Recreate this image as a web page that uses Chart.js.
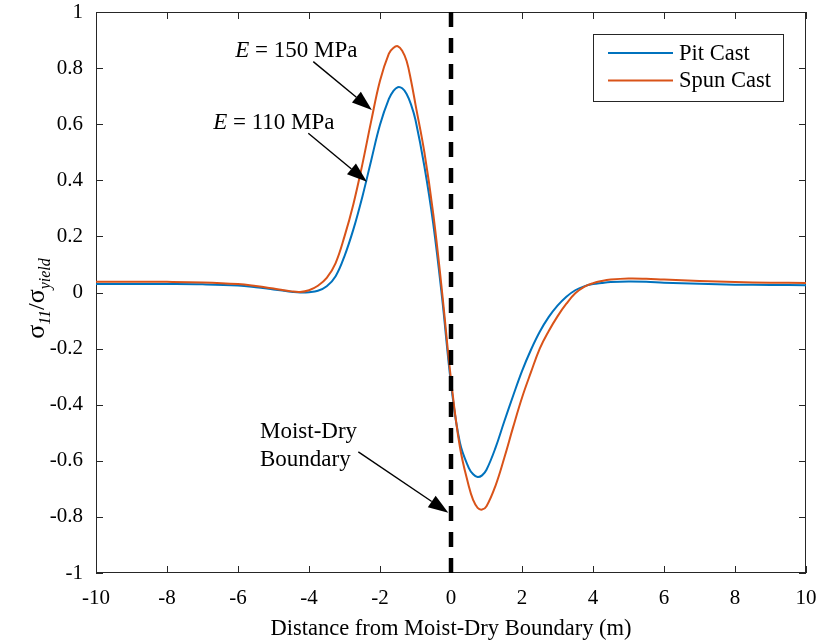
<!DOCTYPE html>
<html><head><meta charset="utf-8">
<script src="https://cdn.jsdelivr.net/npm/chart.js@4/dist/chart.umd.min.js"></script>
<style>html,body{margin:0;padding:0;background:#fff}#wrap{width:819px;height:641px}</style>
</head><body><div id="wrap"><canvas id="c" width="819" height="641"></canvas></div>
<script>
// ---- data ----
const seriesNames = ['Pit Cast', 'Spun Cast'];
const distance = [-10, -9, -8, -7, -6, -5.5, -5, -4.75, -4.5, -4.25, -4, -3.75, -3.5, -3.25, -3, -2.75, -2.5, -2.25, -2, -1.75, -1.625, -1.5, -1.375, -1.25, -1.125, -1, -0.75, -0.5, -0.25, 0, 0.25, 0.5, 0.625, 0.75, 0.875, 1, 1.25, 1.5, 1.75, 2, 2.25, 2.5, 2.75, 3, 3.25, 3.5, 3.75, 4, 4.25, 4.5, 5, 5.5, 6, 7, 8, 9, 10];
const pitCast = [0.030, 0.030, 0.030, 0.029, 0.025, 0.019, 0.011, 0.007, 0.003, 0.0, 0.001, 0.006, 0.022, 0.058, 0.13, 0.225, 0.34, 0.47, 0.598, 0.69, 0.718, 0.732, 0.728, 0.708, 0.67, 0.615, 0.45, 0.245, -0.02, -0.325, -0.535, -0.625, -0.648, -0.658, -0.652, -0.632, -0.555, -0.46, -0.368, -0.28, -0.205, -0.14, -0.088, -0.047, -0.015, 0.008, 0.022, 0.03, 0.034, 0.037, 0.039, 0.038, 0.035, 0.031, 0.028, 0.027, 0.026];
const spunCast = [0.038, 0.038, 0.038, 0.036, 0.030, 0.023, 0.014, 0.009, 0.004, 0.002, 0.008, 0.024, 0.052, 0.105, 0.20, 0.315, 0.455, 0.61, 0.755, 0.852, 0.872, 0.878, 0.862, 0.825, 0.755, 0.67, 0.50, 0.28, 0.0, -0.31, -0.55, -0.69, -0.74, -0.768, -0.774, -0.762, -0.69, -0.59, -0.48, -0.375, -0.285, -0.2, -0.138, -0.085, -0.04, -0.003, 0.02, 0.033, 0.041, 0.046, 0.05, 0.049, 0.046, 0.041, 0.037, 0.035, 0.034];
const boundaryX = [0, 0];
const boundaryY = [1, -1];
const xTickLabels = ['-10', '-8', '-6', '-4', '-2', '0', '2', '4', '6', '8', '10'];
const yTickLabels = ['-1', '-0.8', '-0.6', '-0.4', '-0.2', '0', '0.2', '0.4', '0.6', '0.8', '1'];
const xTitle = 'Distance from Moist-Dry Boundary (m)';

// ---- styling ----
const FONT = '"Liberation Serif", "Times New Roman", serif';
const AX = '#262626';
const BLUE = '#0072BD';
const ORANGE = '#D95319';

const pts = (xs, ys) => xs.map((x, i) => ({x: x, y: ys[i]}));

// annotation anchors in data units
const notes = [
  {lines: [[['E', true], [' = 150 MPa', false]]], x: -6.08, y: 0.862, from: [-3.88, 0.823], to: [-2.23, 0.651]},
  {lines: [[['E', true], [' = 110 MPa', false]]], x: -6.70, y: 0.605, from: [-4.02, 0.568], to: [-2.37, 0.395]},
  {lines: [[['Moist-Dry', false]], [['Boundary', false]]], x: -5.38, y: -0.496, dy: -0.101, from: [-2.61, -0.568], to: [-0.076, -0.785]}
];

function arrow(ctx, x1, y1, x2, y2) {
  const ang = Math.atan2(y2 - y1, x2 - x1);
  const L = 20, W = 7;
  const bx = x2 - L * Math.cos(ang), by = y2 - L * Math.sin(ang);
  ctx.beginPath(); ctx.moveTo(x1, y1); ctx.lineTo(bx, by);
  ctx.lineWidth = 1.4; ctx.strokeStyle = '#000'; ctx.stroke();
  ctx.beginPath();
  ctx.moveTo(x2, y2);
  ctx.lineTo(bx + W * Math.sin(ang), by - W * Math.cos(ang));
  ctx.lineTo(bx - W * Math.sin(ang), by + W * Math.cos(ang));
  ctx.closePath(); ctx.fillStyle = '#000'; ctx.fill();
}

const framePlugin = {
  id: 'frame',
  beforeDatasetsDraw(chart) {
    const {ctx, chartArea: a, scales: {x, y}} = chart;
    ctx.save();
    ctx.strokeStyle = AX; ctx.lineWidth = 1;
    ctx.strokeRect(a.left + 0.5, a.top + 0.5, a.right - a.left - 1, a.bottom - a.top - 1);
    ctx.beginPath();
    x.ticks.forEach(t => {
      const p = Math.round(x.getPixelForValue(t.value)) + 0.5;
      ctx.moveTo(p, a.bottom); ctx.lineTo(p, a.bottom - 7);
      ctx.moveTo(p, a.top); ctx.lineTo(p, a.top + 7);
    });
    y.ticks.forEach(t => {
      const p = Math.round(y.getPixelForValue(t.value)) + 0.5;
      ctx.moveTo(a.left, p); ctx.lineTo(a.left + 7, p);
      ctx.moveTo(a.right, p); ctx.lineTo(a.right - 7, p);
    });
    ctx.stroke();
    ctx.restore();
  },
  afterDraw(chart) {
    const {ctx, chartArea: a, scales: {x, y}} = chart;
    ctx.save();
    // x title
    ctx.fillStyle = '#000';
    ctx.font = '22.5px ' + FONT;
    ctx.textAlign = 'center'; ctx.textBaseline = 'middle';
    ctx.fillText(xTitle, (a.left + a.right) / 2, 629);
    // y title (rotated, with subscripts)
    ctx.save();
    ctx.translate(36, (a.top + a.bottom) / 2 + 6);
    ctx.rotate(-Math.PI / 2);
    const parts = [['σ', 26, false, 0], ['11', 16, true, 6], ['/', 24, false, 0], ['σ', 26, false, 0], ['yield', 16, true, 6]];
    let total = 0;
    parts.forEach(p => { ctx.font = (p[2] ? 'italic ' : '') + p[1] + 'px ' + FONT; total += ctx.measureText(p[0]).width; });
    let cx = -total / 2;
    ctx.textAlign = 'left'; ctx.textBaseline = 'alphabetic';
    parts.forEach(p => {
      ctx.font = (p[2] ? 'italic ' : '') + p[1] + 'px ' + FONT;
      ctx.fillText(p[0], cx, 8 + p[3]);
      cx += ctx.measureText(p[0]).width;
    });
    ctx.restore();
    // legend
    const lx = 593, ly = 34, lw = 190, lh = 67;
    ctx.fillStyle = '#fff'; ctx.fillRect(lx, ly, lw, lh);
    ctx.strokeStyle = AX; ctx.lineWidth = 1;
    ctx.strokeRect(lx + 0.5, ly + 0.5, lw, lh);
    chart.data.datasets.filter(d => seriesNames.includes(d.label))
      .sort((p, q) => seriesNames.indexOf(p.label) - seriesNames.indexOf(q.label))
      .forEach((d, i) => {
        const yy = 53 + i * 27.5;
        ctx.strokeStyle = d.borderColor; ctx.lineWidth = 2;
        ctx.beginPath(); ctx.moveTo(608, yy); ctx.lineTo(673, yy); ctx.stroke();
        ctx.fillStyle = '#000'; ctx.font = '22.5px ' + FONT;
        ctx.textAlign = 'left'; ctx.textBaseline = 'middle';
        ctx.fillText(d.label, 679, yy + 1);
      });
    // annotations
    notes.forEach(n => {
      n.lines.forEach((line, li) => {
        let px = x.getPixelForValue(n.x);
        const py = y.getPixelForValue(n.y + li * (n.dy || 0));
        ctx.textAlign = 'left'; ctx.textBaseline = 'middle'; ctx.fillStyle = '#000';
        line.forEach(seg => {
          ctx.font = (seg[1] ? 'italic ' : '') + '23px ' + FONT;
          ctx.fillText(seg[0], px, py);
          px += ctx.measureText(seg[0]).width;
        });
      });
      arrow(ctx, x.getPixelForValue(n.from[0]), y.getPixelForValue(n.from[1]),
                 x.getPixelForValue(n.to[0]), y.getPixelForValue(n.to[1]));
    });
    ctx.restore();
  }
};

new Chart(document.getElementById('c'), {
  type: 'line',
  data: {
    datasets: [
      {label: 'Moist-Dry Boundary', data: pts(boundaryX, boundaryY), borderColor: '#000', borderWidth: 4.5, borderDash: [15, 11], pointRadius: 0, order: 0, tension: 0},
      {label: seriesNames[1], data: pts(distance, spunCast), borderColor: ORANGE, borderWidth: 2, pointRadius: 0, tension: 0.4, order: 1},
      {label: seriesNames[0], data: pts(distance, pitCast), borderColor: BLUE, borderWidth: 2, pointRadius: 0, tension: 0.4, order: 2}
    ]
  },
  options: {
    responsive: false, animation: false, devicePixelRatio: 1,
    layout: {padding: {left: 0, right: 13, top: 12, bottom: 0}},
    plugins: {legend: {display: false}, tooltip: {enabled: false}},
    scales: {
      x: {
        type: 'linear', min: -10, max: 10,
        grid: {display: false, drawTicks: false},
        border: {display: false},
        ticks: {stepSize: 2, autoSkip: false, maxRotation: 0, padding: 13, color: '#000',
          font: {family: FONT, size: 21},
          callback: v => xTickLabels[Math.round((v + 10) / 2)]},
        afterFit: s => { s.height = 68; s.paddingLeft = 0; s.paddingRight = 0; }
      },
      y: {
        type: 'linear', min: -1, max: 1,
        grid: {display: false, drawTicks: false},
        border: {display: false},
        ticks: {stepSize: 0.2, autoSkip: false, padding: 13, color: '#000',
          font: {family: FONT, size: 21},
          callback: v => yTickLabels[Math.round((v + 1) / 0.2)]},
        afterFit: s => { s.width = 96; s.paddingTop = 0; s.paddingBottom = 0; }
      }
    }
  },
  plugins: [framePlugin]
});
</script>
</body></html>
